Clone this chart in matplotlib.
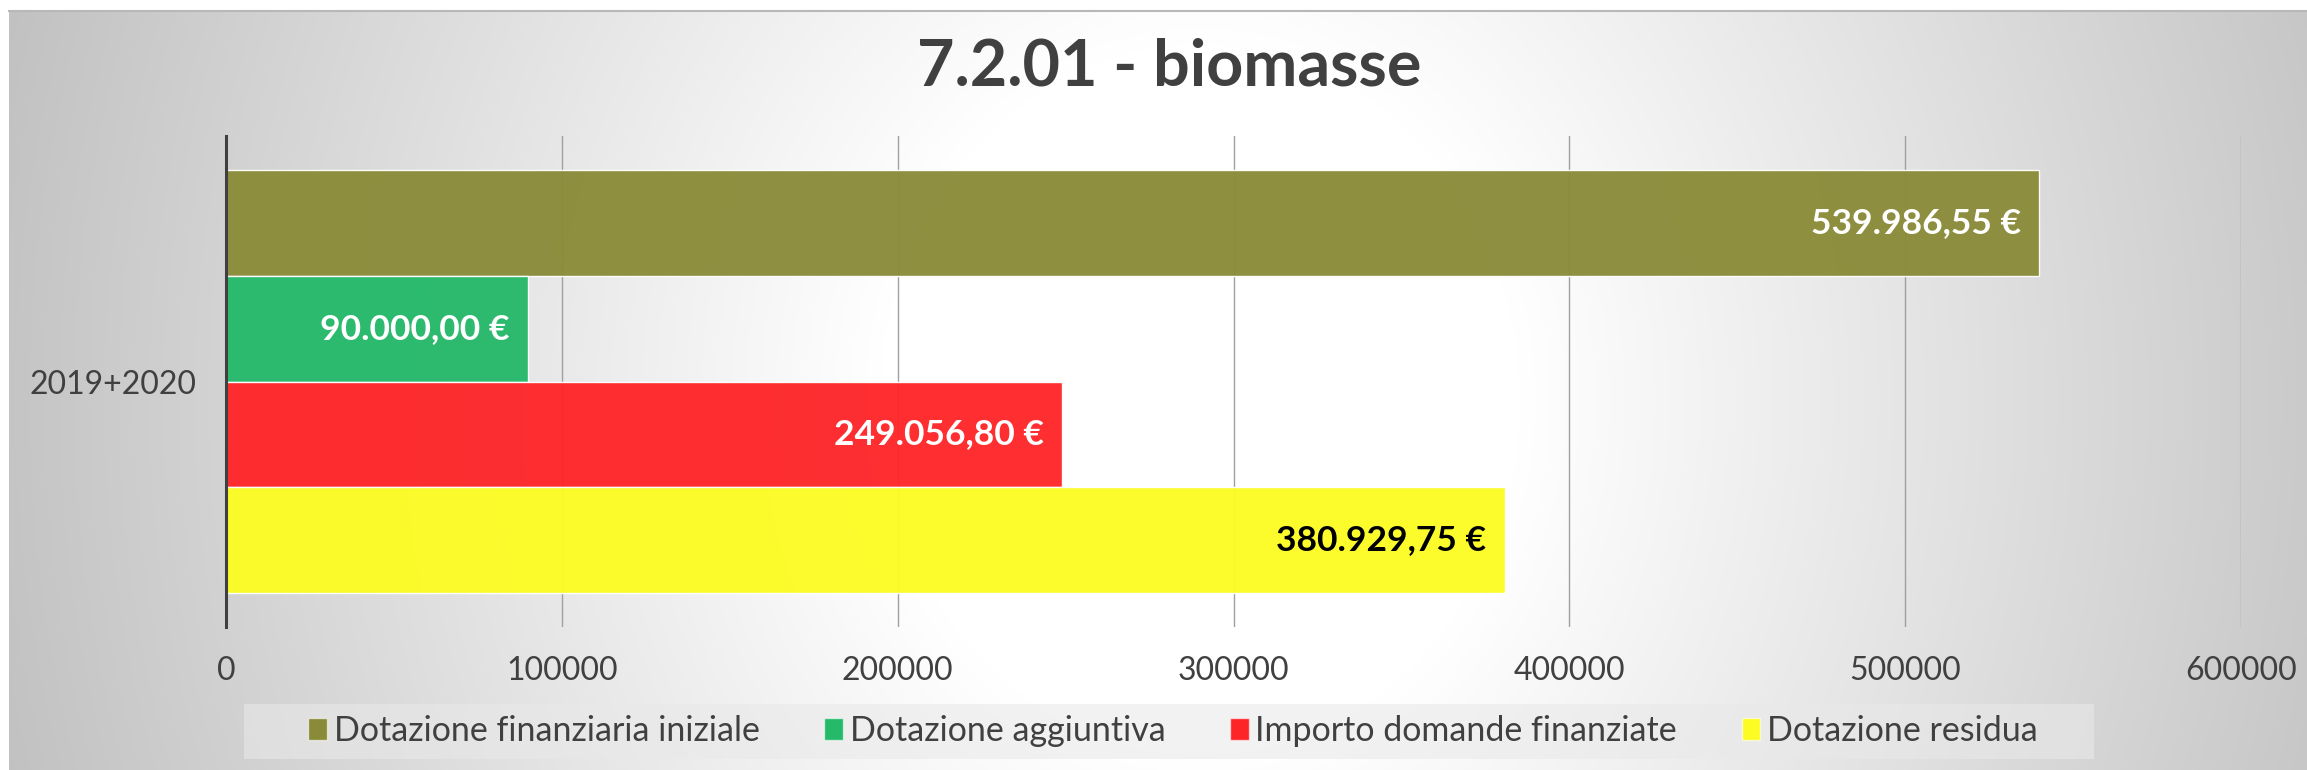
import numpy as np
import matplotlib
matplotlib.use('Agg')
from matplotlib import pyplot as plt
from matplotlib.patches import Patch, Rectangle

plt.rcParams['font.family'] = ['Lato', 'DejaVu Sans']

# dati
titolo = "7.2.01 - biomasse"
categoria = "2019+2020"
serie = ["Dotazione finanziaria iniziale", "Dotazione aggiuntiva",
         "Importo domande finanziate", "Dotazione residua"]
valori = [539986.55, 90000.00, 249056.80, 380929.75]
colori = ["#8a8b38", "#25b96a", "#fe2528", "#fcfc24"]
colori_etichette = ["white", "white", "white", "black"]
xticks = [0, 100000, 200000, 300000, 400000, 500000, 600000]

W, H = 2307, 770
TXT = "#404040"


def euro(v):
    # formato italiano: 539.986,55 €
    s = "{:,.2f}".format(v)
    s = s.replace(",", "X").replace(".", ",").replace("X", ".")
    return s + " €"


fig = plt.figure(figsize=(W / 100, H / 100), dpi=100)

# sfondo con gradiente radiale (bianco al centro, grigio ai bordi)
bg = fig.add_axes([9 / W, 0, 1 - 9 / W, 1 - 11 / H], zorder=-10)
yy, xx = np.mgrid[11:H, 9:W]
d = np.sqrt((xx - 1200.0) ** 2 + ((yy - 400.0) * 0.9) ** 2)
val = 255 - 0.067 * np.clip(d - 320, 0, None)
val = np.clip(val, 190, 255) / 255.0
bg.imshow(np.dstack([val, val, val]), aspect='auto', interpolation='bilinear')
bg.set_xticks([])
bg.set_yticks([])
for s in ['left', 'right', 'bottom']:
    bg.spines[s].set_visible(False)
bg.spines['top'].set_color('#b8b8b8')
bg.spines['top'].set_linewidth(1.5)

# riquadro della legenda
fig.add_artist(Rectangle((244 / W, 1 - 759 / H), (2094 - 244) / W, 55 / H,
                         transform=fig.transFigure, facecolor='#e9e9e9', alpha=0.58,
                         edgecolor='none', zorder=-5))

# area del grafico
ax = fig.add_axes([226 / W, 1 - 627 / H, (2241 - 226) / W, (627 - 136) / H])
ax.patch.set_alpha(0)

pos = np.arange(len(valori))
ax.barh(pos, valori, height=1.0, color=colori, alpha=0.96,
        edgecolor=(1, 1, 1, 0.5), linewidth=1, zorder=2)

for p, v, c in zip(pos, valori, colori_etichette):
    ax.annotate(euro(v), xy=(v, p), xytext=(-13.5, 0), textcoords='offset points',
                ha='right', va='center', color=c, fontsize=25.5, fontweight='bold', zorder=3)

ax.set_xlim(0, 600000)
ax.set_ylim(3.822, -0.822)
ax.set_xticks(xticks)
ax.set_xticklabels([str(t) for t in xticks])
ax.set_yticks([1.5])
ax.set_yticklabels([categoria])
ax.tick_params(axis='both', length=0, labelsize=23, labelcolor=TXT)
ax.tick_params(axis='x', pad=21)
ax.tick_params(axis='y', pad=21)

ax.set_axisbelow(True)
ax.grid(axis='x', color='#a0a0a0', linewidth=1)
ax.grid(axis='y', visible=False)
for s in ['top', 'right', 'bottom']:
    ax.spines[s].set_visible(False)
ax.spines['left'].set_color('#404040')
ax.spines['left'].set_linewidth(2.2)
ax.spines['left'].set_zorder(4)

fig.text(1169 / W, 1 - 67 / H, titolo, ha='center', va='center',
         fontsize=46.5, fontweight='bold', color=TXT)

handles = [Patch(facecolor=c, edgecolor=(1, 1, 1, 0.6), linewidth=1) for c in colori]
leg = fig.legend(handles, serie, loc='center', bbox_to_anchor=(1173 / W, 1 - 731 / H),
                 ncol=4, fontsize=24.5, frameon=False, handlelength=0.55, handleheight=0.6,
                 handletextpad=0.2, columnspacing=1.9, borderpad=0.3)
for t in leg.get_texts():
    t.set_color(TXT)

fig.savefig('out.png', dpi=100)
plt.close()
